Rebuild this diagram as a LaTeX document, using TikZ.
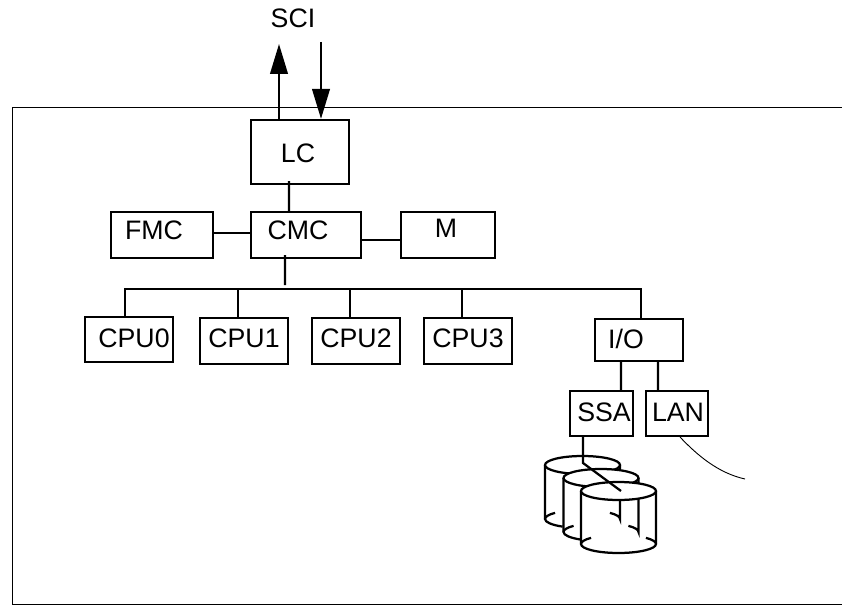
\documentclass[tikz,border=0pt]{standalone}
\usepackage{fontspec}
\setmainfont{Liberation Sans}
\usetikzlibrary{arrows.meta, positioning}
\tikzset{
    unitbox/.style={draw, rectangle, line width=1.6pt},
    unitlabel/.style={font=\fontsize{19}{21}\selectfont, inner sep=0pt},
    busline/.style={line width=1.6pt},
    sciarrow/.style={line width=1.6pt, -{Triangle[length=0.75cm, width=0.44cm]}},
    thinline/.style={line width=0.65pt},
    disktop/.style={line width=1.6pt, fill=white},
    diskside/.style={line width=1.6pt},
}
\begin{document}
\begin{tikzpicture}
    \useasboundingbox (0,0) rectangle (21.05,15.175);
    % enclosure, open on the right
    \draw[thinline] (21.05,12.5) -- (0.3,12.5) -- (0.3,0.075) -- (21.05,0.075);

    % service connection
    \node[unitlabel] (scilabel) at (7.325,14.725) {SCI};
    \coordinate (sciout) at (6.975,14.075);
    \coordinate (sciin) at (8.025,14.125);

    % controllers
    \node[unitbox, minimum width=2.45cm, minimum height=1.6cm] (lc) at (7.5,11.375) {};
    \node[unitlabel] (lclabel) at (7.45,11.35) {LC};
    \node[unitbox, minimum width=2.75cm, minimum height=1.15cm] (cmc) at (7.65,9.3) {};
    \node[unitlabel] (cmclabel) at (7.45,9.425) {CMC};
    \node[unitbox, minimum width=2.55cm, minimum height=1.15cm] (fmc) at (4.05,9.3) {};
    \node[unitlabel] (fmclabel) at (3.85,9.425) {FMC};
    \node[unitbox, minimum width=2.35cm, minimum height=1.15cm] (mem) at (11.2,9.3) {};
    \node[unitlabel] (memlabel) at (11.15,9.475) {M};

    % processors and I/O
    \node[unitbox, minimum width=2.2cm, minimum height=1.125cm] (cpu0) at (3.225,6.6875) {};
    \node[unitlabel] (cpu0label) at (3.35,6.725) {CPU0};
    \node[unitbox, minimum width=2.2cm, minimum height=1.15cm] (cpu1) at (6.1,6.65) {};
    \node[unitlabel] (cpu1label) at (6.1,6.725) {CPU1};
    \node[unitbox, minimum width=2.2cm, minimum height=1.15cm] (cpu2) at (8.9,6.65) {};
    \node[unitlabel] (cpu2label) at (8.9,6.725) {CPU2};
    \node[unitbox, minimum width=2.2cm, minimum height=1.15cm] (cpu3) at (11.7,6.65) {};
    \node[unitlabel] (cpu3label) at (11.7,6.725) {CPU3};
    \node[unitbox, minimum width=2.2cm, minimum height=1.05cm] (io) at (15.975,6.675) {};
    \node[unitlabel] (iolabel) at (15.65,6.7) {I/O};
    \node[unitbox, minimum width=1.575cm, minimum height=1.125cm] (ssa) at (15.04,4.84) {};
    \node[unitlabel] (ssalabel) at (15.1,4.875) {SSA};
    \node[unitbox, minimum width=1.55cm, minimum height=1.125cm] (lan) at (16.925,4.84) {};
    \node[unitlabel] (lanlabel) at (16.95,4.875) {LAN};

    % connectors
    \draw[sciarrow] (sciout |- lc.north) -- (sciout);
    \draw[sciarrow] (sciin) -- (sciin |- lc.north);
    \draw[busline] ([xshift=-2.75mm, yshift=1mm]lc.south) -- ([xshift=-4.25mm]cmc.north);
    \draw[busline] ([yshift=0.5mm]fmc.east) -- ([yshift=0.5mm]cmc.west);
    \draw[busline] ([yshift=-1.25mm]cmc.east) -- ([yshift=-1.25mm]mem.west);
    \coordinate (busleft) at (3.125,7.95);
    \coordinate (busright) at (16.025,7.95);
    \coordinate (bustap) at (7.125,8.05);
    \coordinate (tap1) at (5.95,7.95);
    \coordinate (tap2) at (8.75,7.95);
    \coordinate (tap3) at (11.55,7.95);
    \draw[busline] ([xshift=-5.25mm, yshift=1mm]cmc.south) -- (bustap);
    \draw[busline] (cpu0.north -| busleft) -- (busleft) -- (busright) -- (busright |- io.north);
    \draw[busline] (tap1) -- (tap1 |- cpu1.north);
    \draw[busline] (tap2) -- (tap2 |- cpu2.north);
    \draw[busline] (tap3) -- (tap3 |- cpu3.north);
    \draw[busline] ([xshift=-4.5mm]io.south) -- ([xshift=4.85mm]ssa.north);
    \draw[busline] ([xshift=4.75mm]io.south) -- ([xshift=-4.75mm]lan.north);

    % disks, back to front
    \draw[diskside] (13.625,3.55) -- (13.625,2.2) arc[start angle=180, end angle=238, x radius=0.9375, y radius=0.225];
    \draw[diskside] (13.625,2.2) arc[start angle=180, end angle=137, x radius=0.9375, y radius=0.225];
    \draw[diskside] (15.5,3.55) -- (15.5,2.2) arc[start angle=0, end angle=43, x radius=0.9375, y radius=0.225];
    \node[draw=none, inner sep=0pt] (disk0) at (14.5625,3.55) {};
    \draw[disktop] (disk0) ellipse[x radius=0.9375, y radius=0.225];
    \draw[diskside] (14.0875,3.225) -- (14.0875,1.875) arc[start angle=180, end angle=238, x radius=0.9375, y radius=0.225];
    \draw[diskside] (14.0875,1.875) arc[start angle=180, end angle=137, x radius=0.9375, y radius=0.225];
    \draw[diskside] (15.9625,3.225) -- (15.9625,1.875) arc[start angle=0, end angle=43, x radius=0.9375, y radius=0.225];
    \node[draw=none, inner sep=0pt] (disk1) at (15.025,3.225) {};
    \draw[disktop] (disk1) ellipse[x radius=0.9375, y radius=0.225];
    \draw[diskside] (14.525,2.9) -- (14.525,1.575) arc[start angle=180, end angle=360, x radius=0.9375, y radius=0.225] -- (16.4,2.9);
    \draw[diskside] (14.525,1.575) arc[start angle=180, end angle=137, x radius=0.9375, y radius=0.225];
    \draw[diskside] (16.4,1.575) arc[start angle=0, end angle=43, x radius=0.9375, y radius=0.225];
    \node[draw=none, inner sep=0pt] (disk2) at (15.4625,2.9) {};
    \draw[disktop] (disk2) ellipse[x radius=0.9375, y radius=0.225];

    % SSA cable and LAN cable
    \coordinate (diskelbow) at (14.575,3.6);
    \coordinate (diskend) at (15.525,2.9);
    \draw[busline] (diskelbow |- ssa.south) -- (diskelbow) -- (diskend);
    \coordinate (lanend) at (18.625,3.2);
    \draw[thinline] ([xshift=0.75mm]lan.south) .. controls (17.425,3.8) and (17.95,3.35) .. (lanend);
\end{tikzpicture}
\end{document}
